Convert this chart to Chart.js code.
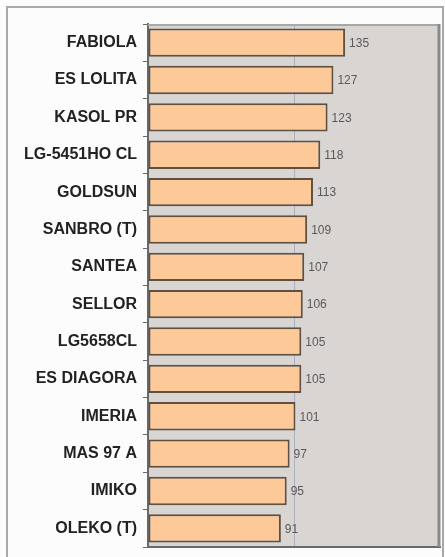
<!DOCTYPE html>
<html>
<head>
<meta charset="utf-8">
<script src="https://cdn.jsdelivr.net/npm/chart.js@4"></script>
<style>
  html, body { margin: 0; padding: 0; background: #ffffff; }
  #wrap { position: relative; width: 445px; height: 557px; }
</style>
</head>
<body>
<div id="wrap"><canvas id="hybridChart" width="445" height="557"></canvas></div>
<script>
// ─── DATA ───────────────────────────────────
const hybrids = ['FABIOLA', 'ES LOLITA', 'KASOL PR', 'LG-5451HO CL', 'GOLDSUN', 'SANBRO (T)',
  'SANTEA', 'SELLOR', 'LG5658CL', 'ES DIAGORA', 'IMERIA', 'MAS 97 A', 'IMIKO', 'OLEKO (T)'];
const indexValues = [135, 127, 123, 118, 113, 109, 107, 106, 105, 105, 101, 97, 95, 91];
const xTicks = [0, 100, 200];

// frame + grey plot background
const backdrop = {
  id: 'backdrop',
  beforeDraw(chart) {
    const { ctx, chartArea: a } = chart;
    ctx.save();
    ctx.fillStyle = '#fcfcfc';
    ctx.fillRect(0, 0, chart.width, chart.height);
    ctx.strokeStyle = '#a9a9a9';
    ctx.lineWidth = 2;
    ctx.strokeRect(7, 7, 436, 560);
    ctx.fillStyle = '#d9d5d2';
    ctx.fillRect(a.left, a.top, a.right - a.left, a.bottom - a.top);
    ctx.restore();
  },
  afterDraw(chart) {
    const { ctx, chartArea: a } = chart;
    ctx.save();
    ctx.strokeStyle = '#a8a8a8';
    ctx.lineWidth = 2;
    ctx.beginPath();
    ctx.moveTo(a.left, a.top + 1);
    ctx.lineTo(a.right, a.top + 1);
    ctx.stroke();
    ctx.strokeStyle = '#8a8a8a';
    ctx.lineWidth = 3;
    ctx.beginPath();
    ctx.moveTo(a.right - 1, a.top);
    ctx.lineTo(a.right - 1, a.bottom);
    ctx.stroke();
    ctx.restore();
  }
};

// numbers to the right of each bar
const valueLabels = {
  id: 'valueLabels',
  afterDatasetsDraw(chart) {
    const { ctx } = chart;
    const meta = chart.getDatasetMeta(0);
    ctx.save();
    ctx.fillStyle = '#5a5a5a';
    ctx.font = '12px "Liberation Sans Narrow", "Liberation Sans", Arial';
    ctx.textBaseline = 'middle';
    meta.data.forEach((bar, i) => {
      ctx.fillText(String(indexValues[i]), bar.x + 4, bar.y + 1);
    });
    ctx.restore();
  }
};

const ctx = document.getElementById('hybridChart').getContext('2d');
new Chart(ctx, {
  type: 'bar',
  data: {
    labels: hybrids,
    datasets: [{
      data: indexValues,
      backgroundColor: '#fdc999',
      borderColor: '#5e5043',
      borderWidth: 2,
      borderSkipped: false,
      barPercentage: 0.76,
      categoryPercentage: 1
    }]
  },
  options: {
    indexAxis: 'y',
    responsive: false,
    animation: false,
    layout: { padding: { left: 0, top: 24, right: 5, bottom: 10 } },
    plugins: {
      legend: { display: false },
      tooltip: { enabled: false }
    },
    scales: {
      x: {
        min: xTicks[0],
        max: xTicks[xTicks.length - 1],
        afterBuildTicks: s => { s.ticks = xTicks.map(v => ({ value: v })); },
        afterFit: s => { s.height = 0; s.paddingLeft = 0; s.paddingRight = 0; },
        ticks: { display: false, padding: 0 },
        grid: {
          drawTicks: false,
          color: c => (c.tick && c.tick.value === 100) ? 'rgba(160,165,185,0.8)' : 'rgba(0,0,0,0)',
          lineWidth: 1
        },
        border: { display: true, color: '#6a6a6a', width: 2 }
      },
      y: {
        afterFit: s => { s.width = 148; s.paddingTop = 0; s.paddingBottom = 0; },
        ticks: {
          color: '#222222',
          padding: 6,
          font: { family: '"Liberation Sans", Arial', size: 16, weight: 'bold' }
        },
        grid: {
          offset: true,
          drawOnChartArea: false,
          tickLength: 5,
          color: '#6a6a6a'
        },
        border: { display: true, color: '#6a6a6a', width: 2 }
      }
    }
  },
  plugins: [backdrop, valueLabels]
});
</script>
</body>
</html>
